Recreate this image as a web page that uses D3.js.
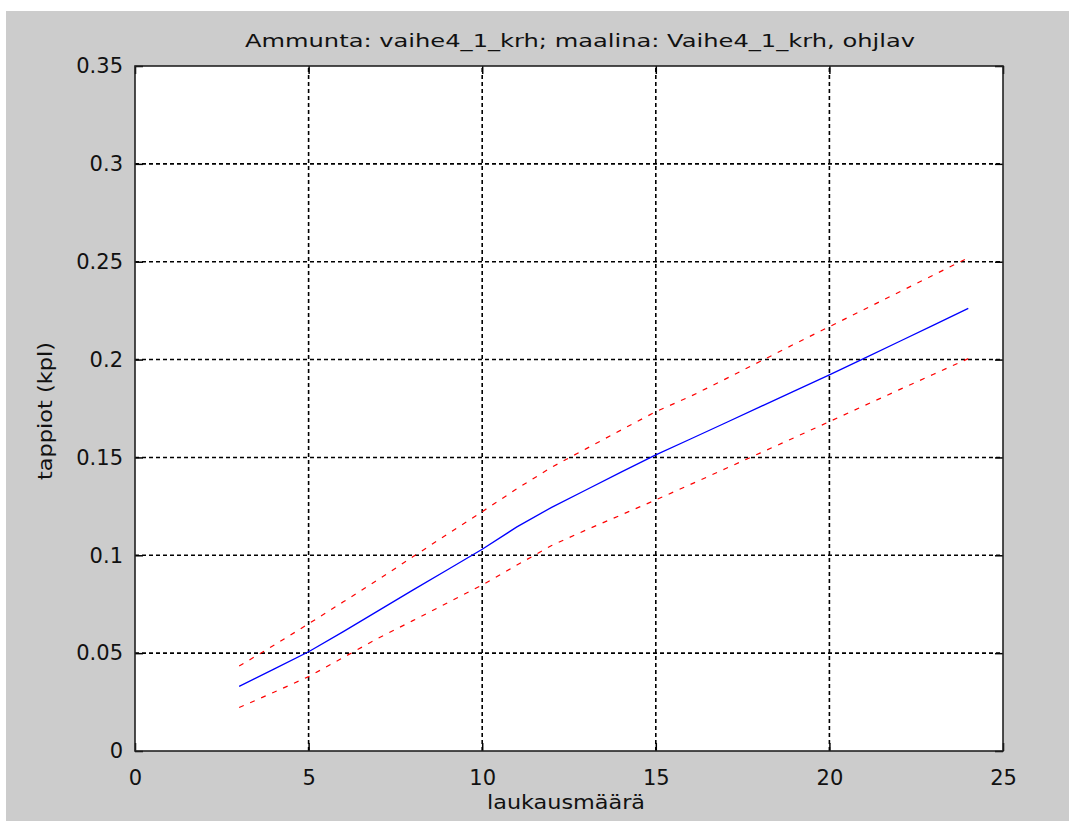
<!DOCTYPE html>
<html>
<head>
<meta charset="utf-8">
<script src="https://cdn.jsdelivr.net/npm/d3@7"></script>
<style>
  body { margin: 0; background: #fff; }
  text { font-family: "DejaVu Sans", Verdana, sans-serif; fill: #111; }
</style>
</head>
<body>
<svg id="chart" width="1069" height="821"></svg>
<script>
const width = 1069, height = 821;
const margin = {left: 135, right: 66, top: 66, bottom: 70};

// data
const shots = [3,4,5,6,7,8,9,10,11,12,13,14,15,16,17,18,19,20,21,22,23,24];
const mean  = [0.0330,0.0418,0.0507,0.0610,0.0716,0.0822,0.0926,0.1031,0.1145,0.1245,0.1335,
               0.1425,0.1513,0.1594,0.1676,0.1758,0.1840,0.1922,0.2006,0.2091,0.2176,0.2262];
const upper = [0.0434,0.0540,0.0650,0.0762,0.0875,0.0992,0.1108,0.1223,0.1340,0.1450,0.1545,
               0.1640,0.1734,0.1812,0.1900,0.1990,0.2080,0.2168,0.2256,0.2344,0.2432,0.2520];
const lower = [0.0222,0.0300,0.0380,0.0478,0.0576,0.0666,0.0757,0.0848,0.0950,0.1050,0.1130,
               0.1206,0.1283,0.1362,0.1442,0.1522,0.1602,0.1683,0.1764,0.1845,0.1925,0.2005];
const xTicks = [0,5,10,15,20,25];
const yTicks = [0,0.05,0.1,0.15,0.2,0.25,0.3,0.35];
const yTickLabels = ['0','0.05','0.1','0.15','0.2','0.25','0.3','0.35'];

const svg = d3.select('#chart');

// grey figure background
svg.append('rect').attr('x', 6).attr('y', 11)
  .attr('width', width - 6).attr('height', height - 11)
  .attr('fill', '#cccccc');

const x = d3.scaleLinear().domain([0, 25]).range([margin.left, width - margin.right]);
const y = d3.scaleLinear().domain([0, 0.35]).range([height - margin.bottom, margin.top]);

svg.append('rect')
  .attr('x', x(0)).attr('y', y(0.35))
  .attr('width', x(25) - x(0)).attr('height', y(0) - y(0.35))
  .attr('fill', '#fff');

// dashed grid
const grid = svg.append('g').attr('stroke', '#000').attr('stroke-width', 1.6)
  .attr('stroke-dasharray', '4,3');
grid.selectAll('.gx').data(xTicks.slice(1, -1)).enter().append('line')
  .attr('x1', d => x(d)).attr('x2', d => x(d))
  .attr('y1', y(0)).attr('y2', y(0.35));
grid.selectAll('.gy').data(yTicks.slice(1, -1)).enter().append('line')
  .attr('y1', d => y(d)).attr('y2', d => y(d))
  .attr('x1', x(0)).attr('x2', x(25));

// axes with inward ticks on all sides
const tl = 8;
svg.append('g').attr('transform', `translate(0,${y(0)})`)
  .call(d3.axisBottom(x).tickValues(xTicks).tickSize(-tl).tickPadding(19))
  .call(g => g.select('.domain').remove());
svg.append('g').attr('transform', `translate(0,${y(0.35)})`)
  .call(d3.axisTop(x).tickValues(xTicks).tickSize(-tl).tickFormat(''))
  .call(g => g.select('.domain').remove());
svg.append('g').attr('transform', `translate(${x(0)},0)`)
  .call(d3.axisLeft(y).tickValues(yTicks).tickSize(-tl).tickPadding(12)
    .tickFormat((d, i) => yTickLabels[i]))
  .call(g => g.select('.domain').remove());
svg.append('g').attr('transform', `translate(${x(25)},0)`)
  .call(d3.axisRight(y).tickValues(yTicks).tickSize(-tl).tickFormat(''))
  .call(g => g.select('.domain').remove());

svg.selectAll('.tick line').attr('stroke', '#000').attr('stroke-width', 1.5);
svg.selectAll('.tick text').attr('font-size', 21)
  .attr('font-family', '"DejaVu Sans", Verdana, sans-serif').attr('fill', '#111');

// lines
const line = vals => d3.line().x((d, i) => x(shots[i])).y(d => y(d))(vals);

svg.append('path').attr('d', line(upper)).attr('fill', 'none')
  .attr('stroke', '#ff0000').attr('stroke-width', 1.2).attr('stroke-dasharray', '5,7');
svg.append('path').attr('d', line(lower)).attr('fill', 'none')
  .attr('stroke', '#ff0000').attr('stroke-width', 1.2).attr('stroke-dasharray', '5,7');
svg.append('path').attr('d', line(mean)).attr('fill', 'none')
  .attr('stroke', '#0000ff').attr('stroke-width', 1.3);

// box
svg.append('rect')
  .attr('x', x(0)).attr('y', y(0.35))
  .attr('width', x(25) - x(0)).attr('height', y(0) - y(0.35))
  .attr('fill', 'none').attr('stroke', '#222').attr('stroke-width', 1.6);

// labels
svg.append('text').attr('x', 245).attr('y', 47)
  .attr('font-size', 18).attr('textLength', 670).attr('lengthAdjust', 'spacingAndGlyphs')
  .text('Ammunta: vaihe4_1_krh; maalina: Vaihe4_1_krh, ohjlav');
svg.append('text').attr('x', 487).attr('y', 809)
  .attr('font-size', 20).attr('textLength', 158).attr('lengthAdjust', 'spacingAndGlyphs')
  .text('laukausmäärä');
svg.append('text')
  .attr('transform', `translate(52,480) rotate(-90)`)
  .attr('font-size', 20).attr('textLength', 138).attr('lengthAdjust', 'spacingAndGlyphs')
  .text('tappiot (kpl)');
</script>
</body>
</html>
